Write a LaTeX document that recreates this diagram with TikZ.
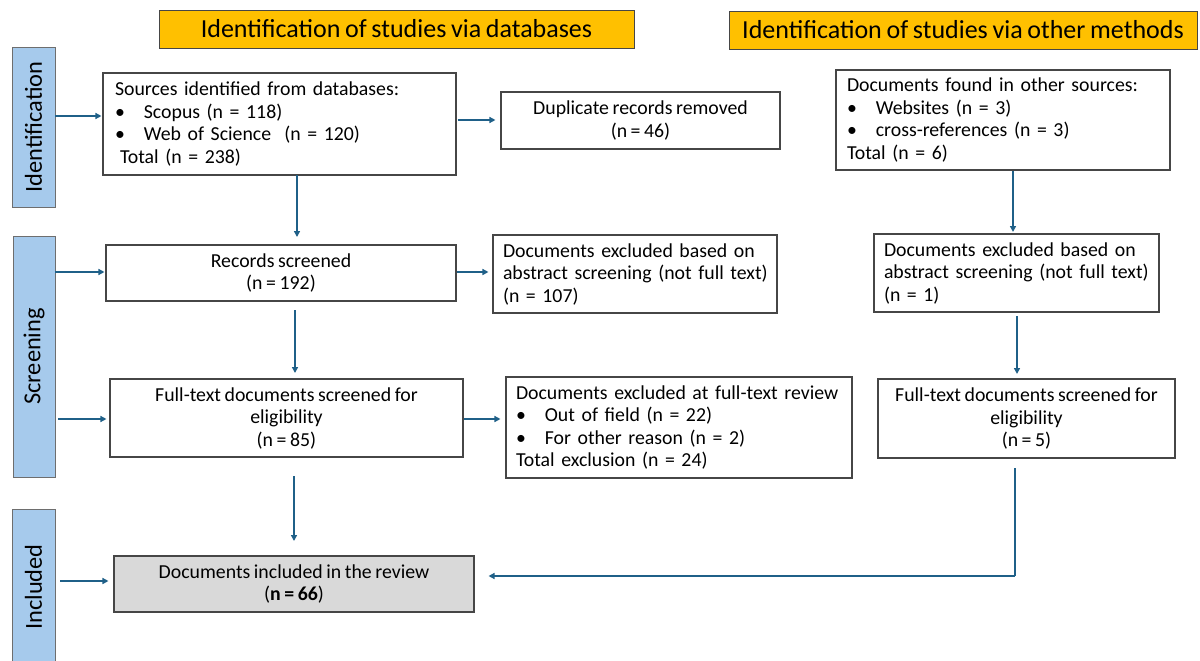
\documentclass[tikz,border=0pt]{standalone}
\usepackage{fontspec}
\setmainfont{Carlito}[WordSpace=0.8]
\usetikzlibrary{arrows.meta,calc}
\definecolor{hdr}{RGB}{255,192,0}
\definecolor{side}{RGB}{166,202,236}
\definecolor{arrc}{RGB}{31,96,136}
\definecolor{boxgray}{RGB}{70,70,70}
\definecolor{sidegray}{RGB}{110,110,110}
\definecolor{incl}{RGB}{217,217,217}
\newcommand{\bul}{\textbullet\hspace{19pt}}
\begin{document}
\begin{tikzpicture}[x=1pt,y=-1pt,
  box/.style={draw=boxgray, line width=1.1pt, fill=white, inner sep=0pt, align=center,
    font=\fontsize{19.8}{22.5}\selectfont},
  hdrbox/.style={draw=boxgray, line width=0.9pt, fill=hdr, inner sep=0pt,
    font=\fontsize{26}{30}\selectfont},
  sidebox/.style={draw=sidegray, line width=0.9pt, fill=side, inner sep=0pt,
    font=\fontsize{24.4}{28}\selectfont},
  arr/.style={draw=arrc, line width=1.5pt, -{Triangle[length=6pt,width=6pt]}},
  line/.style={draw=arrc, line width=1.5pt}]
\useasboundingbox (0,0) rectangle (1200,661);
\fill[white] (0,0) rectangle (1200,661);

% headers
\node[hdrbox, minimum width=475pt, minimum height=38pt] (h1) at (396.5,29) {Identification of studies via databases};
\node[hdrbox, minimum width=468pt, minimum height=38pt] (h2) at (963,30) {Identification of studies via other methods};

% side labels
\node[sidebox, minimum width=160pt, minimum height=43pt, rotate=90] (sid) at (33.5,127) {Identification};
\node[sidebox, minimum width=241pt, minimum height=42pt, rotate=90] (sscr) at (34,356.5) {Screening};
\node[sidebox, minimum width=156pt, minimum height=43pt, rotate=90] (sinc) at (33.5,587) {Included};

% database column
\node[box, minimum width=353pt, minimum height=102pt, text width=329pt, inner xsep=12pt, align=left] (A) at (279.5,124)
  {Sources identified from databases:\\ \bul Scopus (n = 118)\\ \bul Web of Science\ \ (n = 120)\\ \hspace{5pt}Total (n = 238)};
\node[box, minimum width=279pt, minimum height=57pt] (dup) at (640.5,120.5) {Duplicate records removed\\(n = 46)};
\node[box, minimum width=350pt, minimum height=56pt] (rec) at (281,273) {Records screened\\(n = 192)};
\node[box, minimum width=284pt, minimum height=78pt, text width=264pt, inner xsep=10pt, align=left] (exa) at (635,274)
  {Documents excluded based on\\\mbox{abstract screening (not full text)}\\(n = 107)};
\node[box, minimum width=353pt, minimum height=78pt] (ft) at (286.5,418) {Full-text documents screened for\\eligibility\\(n = 85)};
\node[box, minimum width=346pt, minimum height=101pt, text width=326pt, inner xsep=10pt, align=left] (exf) at (679,427.5)
  {Documents excluded at full-text review\\ \bul Out of field (n = 22)\\ \bul For other reason (n = 2)\\Total exclusion (n = 24)};
\node[box, fill=incl, minimum width=360pt, minimum height=56pt] (inc) at (294,584) {Documents included in the review\\(\textbf{n = 66})};

% other methods column
\node[box, minimum width=334pt, minimum height=100pt, text width=312pt, inner xsep=11pt, align=left] (B) at (1003,120)
  {Documents found in other sources:\\ \bul Websites (n = 3)\\ \bul cross-references (n = 3)\\Total (n = 6)};
\node[box, minimum width=285pt, minimum height=78pt, text width=265pt, inner xsep=10pt, align=left] (exb) at (1016.5,273)
  {Documents excluded based on\\\mbox{abstract screening (not full text)}\\(n = 1)};
\node[box, minimum width=297pt, minimum height=79pt] (ftb) at (1026.5,418.5) {Full-text documents screened for\\eligibility\\(n = 5)};

\coordinate (corner) at (1015,576);

% connectors
\draw[arr] (sid.south |- 0,116) -- ([xshift=-1pt]A.west |- 0,116);
\draw[arr] ([xshift=1pt]A.east |- 0,120) -- ([xshift=-5pt]dup.west |- 0,120);
\draw[arr] (297,175) -- (297,237);
\draw[arr] (sscr.south |- 0,272) -- ([xshift=-1pt]rec.west |- 0,272);
\draw[arr] (rec.east |- 0,272) -- ([xshift=-4pt]exa.west |- 0,272);
\draw[arr] (295,310) -- (295,373);
\draw[arr] ([xshift=3pt]sscr.south |- 0,419) -- ([xshift=-3pt]ft.west |- 0,419);
\draw[arr] (ft.east |- 0,419) -- ([xshift=-5pt]exf.west |- 0,419);
\draw[arr] (294,476) -- (294,541);
\draw[arr] ([xshift=5pt]sinc.south |- 0,581) -- ([xshift=-5pt]inc.west |- 0,581);
\draw[arr] (1013,171) -- (1013,232);
\draw[arr] (1017,316) -- (1017,374);
\draw[line] (1015,468) -- (corner);
\draw[arr] (corner) -- ([xshift=14pt]inc.east |- corner);
\end{tikzpicture}
\end{document}
